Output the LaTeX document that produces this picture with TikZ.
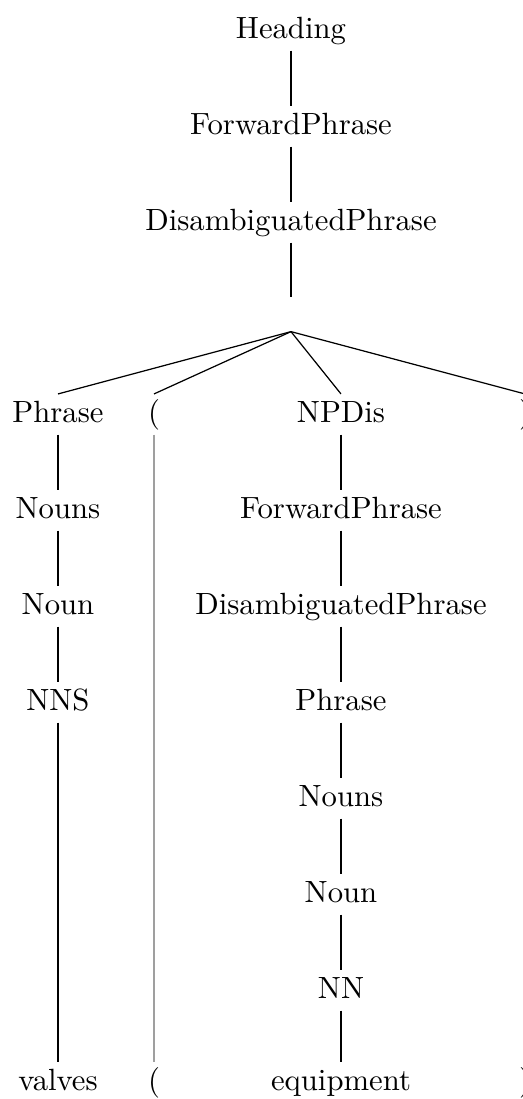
\documentclass[tikz,border=0pt]{standalone}
\begin{document}
\begin{tikzpicture}[x=0.3257pt,y=-0.3257pt,
  lbl/.style={anchor=base, inner xsep=1pt, inner ysep=2pt, text height=6.94pt, text depth=1.94pt},
  edge/.style={line width=0.4pt},
  trace/.style={draw=gray!75, line width=0.4pt}]
\useasboundingbox (0,0) rectangle (523,1099);
% top spine
\node[lbl] (h)  at (291,38)  {Heading};
\node[lbl] (fp) at (291,134) {ForwardPhrase};
\node[lbl] (dp) at (291,230) {DisambiguatedPhrase};
\node[inner sep=0pt, minimum width=0pt, minimum height=10.75pt] (e) at (291,314.5) {};
% row of children
\node[lbl] (ph)  at (58,422)  {Phrase};
\node[lbl] (lp)  at (154,422) {(};
\node[lbl] (np)  at (341,422) {NPDis};
\node[lbl] (rp)  at (525,422) {)};
% left column
\node[lbl] (ns1) at (58,518) {Nouns};
\node[lbl] (n1)  at (58,614) {Noun};
\node[lbl] (nns) at (58,710) {NNS};
\node[lbl] (w1)  at (58,1090) {valves};
% paren leaves
\node[lbl] (lp2) at (154,1090) {(};
\node[lbl] (rp2) at (525,1090) {)};
% right column
\node[lbl] (fp2) at (341,518) {ForwardPhrase};
\node[lbl] (dp2) at (341,614) {DisambiguatedPhrase};
\node[lbl] (ph2) at (341,710) {Phrase};
\node[lbl] (ns2) at (341,806) {Nouns};
\node[lbl] (n2)  at (341,902) {Noun};
\node[lbl] (nn)  at (341,998) {NN};
\node[lbl] (w2)  at (341,1090) {equipment};
% edges
\draw[edge] (h.south) -- (fp.north);
\draw[edge] (fp.south) -- (dp.north);
\draw[edge] (dp.south) -- (e.north);
\draw[edge] (e.south) -- (ph.north);
\draw[edge] (e.south) -- (lp.north);
\draw[edge] (e.south) -- (np.north);
\draw[edge] (e.south) -- (rp.north);
\draw[edge] (ph.south) -- (ns1.north);
\draw[edge] (ns1.south) -- (n1.north);
\draw[edge] (n1.south) -- (nns.north);
\draw[edge] (nns.south) -- (w1.north);
\draw[trace] (lp.south) -- (lp2.north);
\draw[edge] (np.south) -- (fp2.north);
\draw[edge] (fp2.south) -- (dp2.north);
\draw[edge] (dp2.south) -- (ph2.north);
\draw[edge] (ph2.south) -- (ns2.north);
\draw[edge] (ns2.south) -- (n2.north);
\draw[edge] (n2.south) -- (nn.north);
\draw[edge] (nn.south) -- (w2.north);
\end{tikzpicture}
\end{document}
